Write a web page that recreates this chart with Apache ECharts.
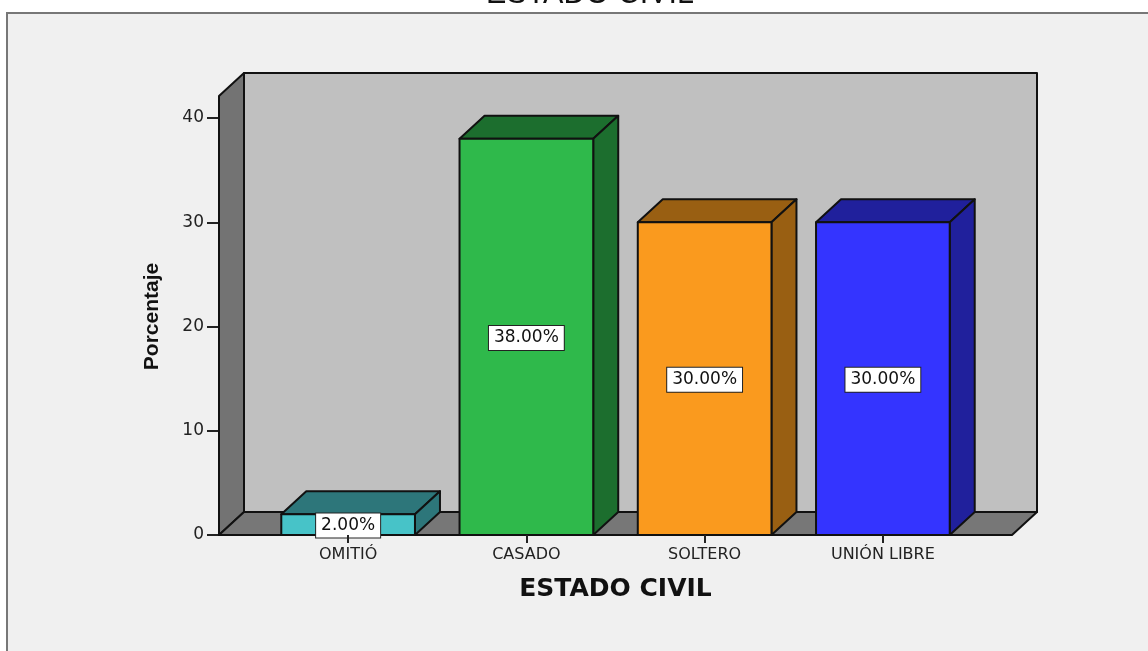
<!DOCTYPE html>
<html><head><meta charset="utf-8">
<style>html,body{margin:0;padding:0;background:#fff}#c{width:1148px;height:651px}</style>
<script src="https://cdn.jsdelivr.net/npm/echarts@6/dist/echarts.min.js"></script>
</head><body><div id="c"></div>
<script>
const categories = ['OMITIÓ', 'CASADO', 'SOLTERO', 'UNIÓN LIBRE'];
const values = [2, 38, 30, 30];
const valueLabels = ['2.00%', '38.00%', '30.00%', '30.00%'];
const faceColors = ['#47c3c8', '#2fb94b', '#fa9a1e', '#3434ff'];
const sideColors = ['#2d767a', '#1c6e2e', '#995f12', '#20209c'];
const topValue = 42.1;

const DX = 25, DY = -23, LINE = '#111';
const chart = echarts.init(document.getElementById('c'));

function renderWalls(params, api) {
  const B = api.coord([0, 0])[1];
  const band = api.size([1, 0])[0];
  const left = api.coord([0, 0])[0] - band / 2 - 40;
  const right = api.coord([3, 0])[0] + band / 2 + 40;
  const T = api.coord([0, topValue])[1];
  const sty = f => ({ fill: f, stroke: LINE, lineWidth: 2, lineJoin: 'round' });
  const poly = (pts, f) => ({ type: 'polygon', shape: { points: pts }, style: sty(f) });
  return { type: 'group', children: [
    poly([[left + DX, T + DY], [right + DX, T + DY], [right + DX, B + DY], [left + DX, B + DY]], '#c0c0c0'),
    poly([[left, B], [left + DX, B + DY], [left + DX, T + DY], [left, T]], '#737373'),
    poly([[left, B], [left + DX, B + DY], [right + DX, B + DY], [right, B]], '#777777')
  ]};
}

function renderBar(params, api) {
  const i = api.value(0), v = api.value(1);
  const [cx, yTop] = api.coord([i, v]);
  const yBase = api.coord([i, 0])[1];
  const w = api.size([1, 0])[0] * 0.75;
  const l = cx - w / 2, r = cx + w / 2;
  const sty = f => ({ fill: f, stroke: LINE, lineWidth: 2, lineJoin: 'round' });
  const poly = (pts, f) => ({ type: 'polygon', shape: { points: pts }, style: sty(f) });
  return { type: 'group', children: [
    poly([[l, yTop], [l + DX, yTop + DY], [r + DX, yTop + DY], [r, yTop]], sideColors[i]),
    poly([[r, yTop], [r + DX, yTop + DY], [r + DX, yBase + DY], [r, yBase]], sideColors[i]),
    poly([[l, yTop], [r, yTop], [r, yBase], [l, yBase]], faceColors[i]),
    { type: 'text', z2: 10, x: cx, y: (yTop + yBase) / 2 + 1, style: {
      text: valueLabels[i], align: 'center', verticalAlign: 'middle',
      font: '17px "DejaVu Sans"', fill: '#111', backgroundColor: '#fff',
      borderColor: '#222', borderWidth: 1, padding: [4, 5, 3, 5]
    }}
  ]};
}

chart.setOption({
  animation: false,
  backgroundColor: '#fff',
  title: {
    text: 'ESTADO CIVIL', left: 585, textAlign: 'center', top: -26,
    textStyle: { fontFamily: 'Liberation Sans', fontSize: 30.5, fontWeight: 'normal', color: '#111' }
  },
  graphic: [{
    type: 'rect', z: -10, silent: true,
    shape: { x: 7, y: 13, width: 1200, height: 700 },
    style: { fill: '#f0f0f0', stroke: '#777', lineWidth: 2 }
  }],
  grid: { left: 259, right: 176, top: 118, bottom: 116 },
  xAxis: {
    type: 'category', data: categories,
    name: 'ESTADO CIVIL', nameLocation: 'middle', nameGap: 42,
    nameTextStyle: { fontFamily: 'DejaVu Sans', fontWeight: 'bold', fontSize: 25, color: '#111' },
    axisLine: { show: false },
    axisTick: { show: true, alignWithLabel: true, length: 8, lineStyle: { color: '#222', width: 2 } },
    axisLabel: { margin: 12, fontFamily: 'DejaVu Sans', fontSize: 16, color: '#222' },
    z: 5
  },
  yAxis: {
    type: 'value', min: 0, max: 40, interval: 10, offset: 40,
    name: 'Porcentaje', nameLocation: 'middle', nameGap: 56, nameRotate: 90,
    nameTextStyle: { fontFamily: 'Liberation Sans', fontWeight: 'bold', fontSize: 21, color: '#111', padding: [0, 0, 0, 20] },
    axisLine: { show: false },
    axisTick: { show: true, length: 12, lineStyle: { color: '#222', width: 2 } },
    axisLabel: { margin: 15, fontFamily: 'DejaVu Sans', fontSize: 17, color: '#222' },
    splitLine: { show: false }
  },
  series: [
    { type: 'custom', renderItem: renderWalls, data: [[0, 0]], silent: true, z: 1 },
    { type: 'custom', renderItem: renderBar, silent: true, z: 2,
      data: values.map((v, i) => [i, v]), encode: { x: 0, y: 1 } }
  ]
});
</script></body></html>
